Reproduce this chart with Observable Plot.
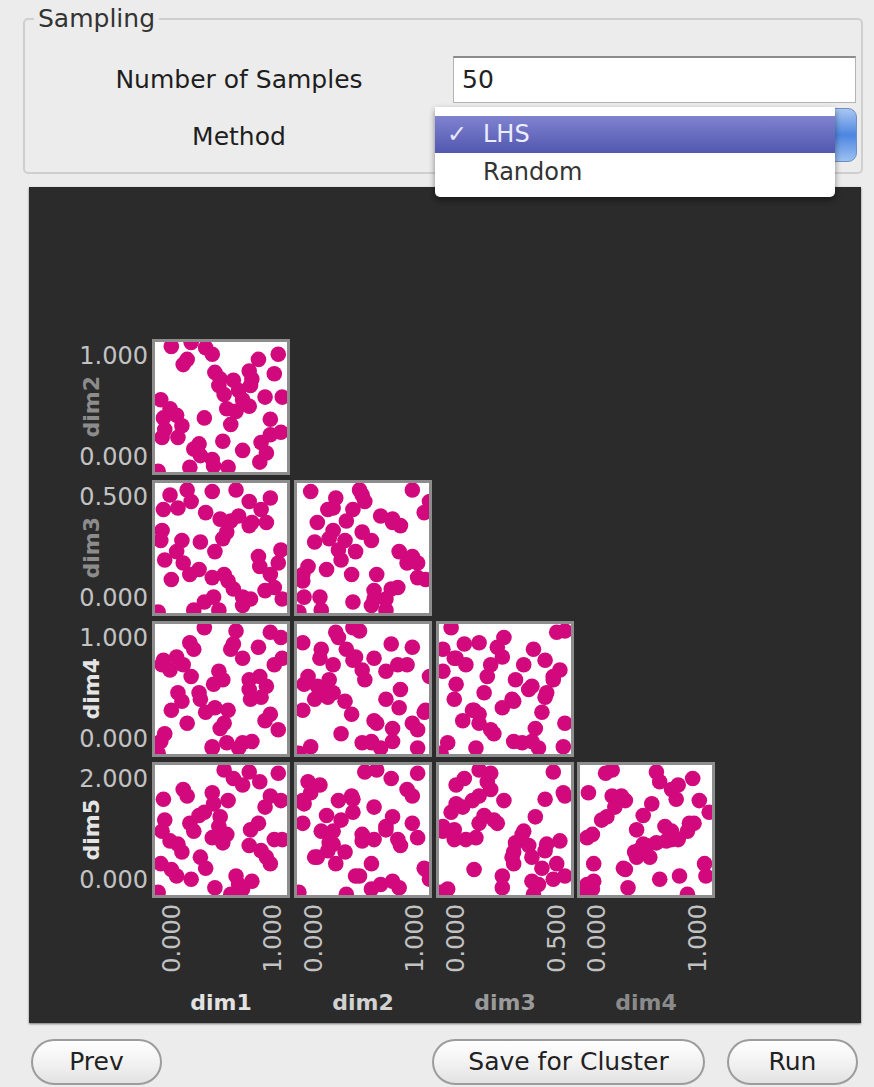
<!DOCTYPE html>
<html>
<head>
<meta charset="utf-8">
<script src="https://cdn.jsdelivr.net/npm/d3@7"></script>
<script src="https://cdn.jsdelivr.net/npm/@observablehq/plot@0.6"></script>
<style>
  html, body { margin: 0; padding: 0; }
  body { width: 874px; height: 1087px; background: #ececec; position: relative; overflow: hidden;
         font-family: "DejaVu Sans", sans-serif; color: #222; }
  .abs { position: absolute; }
  .group { left: 23px; top: 18px; width: 836px; height: 152px; border: 2px solid #cfcfcf; border-radius: 5px; }
  .gtitle { left: 34px; top: 4px; font-size: 25px; color: #333; background: #ececec; padding: 0 4px; line-height: 30px; }
  .lbl { width: 478px; text-align: center; font-size: 25px; line-height: 30px; color: #1e1e1e; }
  .field { left: 453px; top: 56px; width: 401px; height: 44px; background: #fff; border: 1px solid #b4b4b4; border-top: 2px solid #8c8c8c; }
  .field span { position: absolute; left: 8px; top: 7px; font-size: 25px; line-height: 30px; color: #222; }
  .selblue { left: 815px; top: 108px; width: 40px; height: 52px; border-radius: 9px; z-index: 4;
             background: linear-gradient(#a9c6f2, #4d86e0 50%, #9cc0f2); border: 1px solid #6f8fc0; }
  .popup { left: 435px; top: 107px; width: 400px; height: 90px; background: #fff; z-index: 5;
           box-shadow: 0 3px 6px rgba(0,0,0,0.45); border-radius: 0 0 5px 5px; }
  .hl { left: 0; top: 9px; width: 400px; height: 37px; background: linear-gradient(#7f83cf, #5257b0); }
  .item { font-size: 24px; line-height: 30px; }
  .dark { left: 29px; top: 187px; width: 832px; height: 836px; background: #2b2b2b; box-shadow: 0 1px 2px rgba(0,0,0,0.5); }
  .panel { background: #fff; border: 3px solid #8d8d8d; box-sizing: border-box; overflow: hidden; }
  .panel svg { display: block; }
  .ytick { width: 148px; text-align: right; font-size: 24px; line-height: 28px; color: #c2c2c2; }
  .vbox { display: flex; justify-content: center; }
  .vtext { writing-mode: vertical-rl; transform: rotate(180deg); white-space: nowrap; }
  .xtick { font-size: 24px; color: #c2c2c2; line-height: 28px; }
  .dimlbl { font-size: 22px; font-weight: bold; line-height: 28px; }
  .btn { height: 42px; border: 2px solid #9c9c9c; border-radius: 24px; background: linear-gradient(#ffffff, #f1f1f1 55%, #e2e2e2);
         text-align: center; font-size: 25px; line-height: 42px; color: #222; box-sizing: content-box; }
</style>
</head>
<body>
<div class="abs group"></div>
<div class="abs gtitle">Sampling</div>
<div class="abs lbl" style="left:0;top:65px;">Number of Samples</div>
<div class="abs lbl" style="left:0;top:122px;">Method</div>
<div class="abs field"><span>50</span></div>
<div class="abs dark"></div>
<div class="abs selblue"></div>
<div class="abs popup">
  <div class="abs hl"></div>
  <div class="abs item" style="left:12px;top:12px;color:#e8e8ff;">✓</div>
  <div class="abs item" style="left:48px;top:12px;color:#ececff;">LHS</div>
  <div class="abs item" style="left:48px;top:50px;color:#333;">Random</div>
</div>
<div id="matrix"></div>
<div class="abs btn" style="left:31px;top:1039px;width:127px;">Prev</div>
<div class="abs btn" style="left:432px;top:1039px;width:269px;">Save for Cluster</div>
<div class="abs btn" style="left:727px;top:1039px;width:127px;">Run</div>
<script>
// ---- data ----
const dims = ["dim1", "dim2", "dim3", "dim4", "dim5"];
const dimMax = [1, 1, 0.5, 1, 2];
const tickLow = ["0.000", "0.000", "0.000", "0.000", "0.000"];
const tickHigh = ["1.000", "1.000", "0.500", "1.000", "2.000"];

const dim1 = [.02,.04,.05,.06,.07,.11,.12,.16,.17,.20,.21,.24,.26,.27,.29,.33,.34,.37,.38,.43,.43,.44,.45,.48,.49,.51,.52,.54,.55,.57,.59,.61,.63,.66,.66,.71,.71,.72,.73,.78,.79,.80,.83,.84,.87,.87,.90,.93,.95,.96];
const dim2 = [.01,.56,.27,.42,.33,.49,.97,.44,.27,.36,.83,.87,.04,1.0,.18,.22,.13,.42,.96,.91,.10,.05,.77,.67,.72,.24,.60,.49,.04,.37,.71,.47,.63,.17,.56,.78,.51,.67,.72,.87,.08,.23,.58,.15,.41,.29,.76,.91,.31,.58];
const dim3 = [.006,.281,.319,.40,.206,.456,.131,.238,.406,.281,.194,.475,.15,.431,.013,.169,.275,.044,.388,.138,.469,.063,.238,.013,.363,.288,.15,.313,.125,.356,.094,.475,.375,.063,.031,.338,.431,.056,.35,.219,.181,.40,.088,.35,.15,.444,.10,.194,.244,.056];
const dim4 = [.01,.10,.69,.725,.16,.65,.34,.75,.475,.41,.69,.24,.86,.60,.81,.475,.425,.975,.325,.05,.06,.54,.36,.64,.20,.575,.24,.09,.34,.81,.85,.95,.05,.74,.09,.50,.575,.425,.10,.825,.60,.44,.26,.525,.31,.94,.69,.19,.90,.74];
const dim5 = [.05,.49,.99,1.48,1.16,.84,.40,.30,.79,.67,1.63,1.53,1.11,.25,.99,1.23,.59,1.28,.42,.89,1.58,1.41,.12,1.06,1.21,.81,1.93,.94,1.46,.02,1.80,.30,.17,1.70,.10,.77,1.90,1.01,.22,1.11,1.75,.69,1.36,.59,1.53,.49,.86,1.88,1.46,.86];

// ---- layout ----
const colLeft = [152, 294, 436, 577];
const rowTop = [339, 480, 621, 762];
const panelW = 138, panelH = 136, border = 3;
const rowLabelColor = ["#8c8c8c", "#8c8c8c", "#e4e4e4", "#e4e4e4"];
const colLabelColor = ["#e2e2e2", "#d2d2d2", "#9a9a9a", "#8a8a8a"];

const cols = [dim1, dim2, dim3, dim4, dim5];
const samples = dim1.map((_, i) => Object.fromEntries(dims.map((d, k) => [d, cols[k][i]])));

const root = document.getElementById("matrix");
function add(cls, style, html) {
  const el = document.createElement("div");
  el.className = "abs " + cls;
  Object.assign(el.style, style);
  if (html !== undefined) el.innerHTML = html;
  root.appendChild(el);
  return el;
}

for (let r = 1; r < dims.length; r++) {
  const top = rowTop[r - 1];
  for (let c = 0; c < r; c++) {
    const left = colLeft[c];
    const box = add("panel", {left: left + "px", top: top + "px", width: panelW + "px", height: panelH + "px"});
    const chart = Plot.plot({
      width: panelW - 2 * border,
      height: panelH - 2 * border,
      margin: 0,
      x: {domain: [0, dimMax[c]], axis: null},
      y: {domain: [0, dimMax[r]], axis: null},
      style: {background: "white"},
      marks: [
        Plot.dot(samples, {x: dims[c], y: dims[r], r: 7.8, fill: "#d2087d", stroke: "none", clip: true})
      ]
    });
    box.appendChild(chart);
  }
  // y tick labels
  add("ytick", {left: "0px", top: (top + 17 - 14) + "px"}, tickHigh[r]);
  add("ytick", {left: "0px", top: (top + panelH - 18 - 14) + "px"}, tickLow[r]);
  // row title
  const rl = add("vbox", {left: "77px", top: top + "px", width: "30px", height: panelH + "px", alignItems: "center"});
  rl.innerHTML = `<span class="vtext dimlbl" style="color:${rowLabelColor[r - 1]}">${dims[r]}</span>`;
}

// x tick labels & column titles
for (let c = 0; c < dims.length - 1; c++) {
  const left = colLeft[c];
  const xs = [[left + 20, tickLow[c]], [left + panelW - 17, tickHigh[c]]];
  for (const [cx, txt] of xs) {
    const b = add("vbox", {left: (cx - 15) + "px", top: "904px", width: "30px", height: "80px", alignItems: "flex-start"});
    b.innerHTML = `<span class="vtext xtick">${txt}</span>`;
  }
  add("dimlbl", {left: left + "px", top: "989px", width: panelW + "px", textAlign: "center", color: colLabelColor[c]}, dims[c]);
}
</script>
</body>
</html>
